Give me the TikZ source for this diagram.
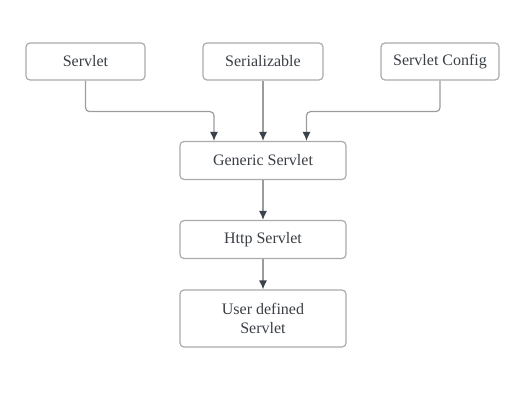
\documentclass[tikz,border=0pt]{standalone}
\usepackage{fontspec}
\setmainfont{Liberation Serif}
\usepackage{tikz}
\usetikzlibrary{calc,shapes,arrows.meta}
\definecolor{boxline}{HTML}{ABABAB}
\definecolor{wireline}{HTML}{9C9C9C}
\definecolor{headcol}{HTML}{3B424B}
\definecolor{txtcol}{HTML}{3A3F45}
\tikzset{
  cls/.style={draw=boxline,line width=1.2pt,rounded corners=4pt,inner sep=0pt,
    minimum height=37pt,text=txtcol,align=center,font=\fontsize{16}{19}\selectfont},
  inh/.style={draw=wireline,line width=1.2pt,rounded corners=4pt,
    -{Latex[length=9pt,width=8pt,color=headcol]}}
}
\begin{document}
\begin{tikzpicture}[x=1pt,y=-1pt]
            \useasboundingbox (0,0) rectangle (519,406);
            \node[cls,minimum width=119pt] (sv) at (85.5,61.5) {Servlet};
            \node[cls,minimum width=120pt] (sz) at (263,61.5) {Serializable};
            \node[cls,minimum width=118pt] (sc) at (440,61.5) {Servlet Config};
            \node[cls,minimum width=166pt,minimum height=38pt] (gs) at (263,160.5) {Generic Servlet};
            \node[cls,minimum width=166pt,minimum height=38pt] (hs) at (263,239.5) {Http Servlet};
            \node[cls,minimum width=166pt,minimum height=57pt] (ud) at (263,318.5) {User defined\\Servlet};
            \coordinate (gl) at ($(gs.north)+(-49,0)$);
            \coordinate (gr) at ($(gs.north)+(43.5,0)$);
            \draw[inh] (sv.south) -- ++(0,31) -| (gl);
            \draw[inh] (sc.south) -- ++(0,31) -| (gr);
            \draw[inh] (sz) edge (gs) (gs) edge (hs) (hs) edge (ud);
          \end{tikzpicture}
\end{document}
